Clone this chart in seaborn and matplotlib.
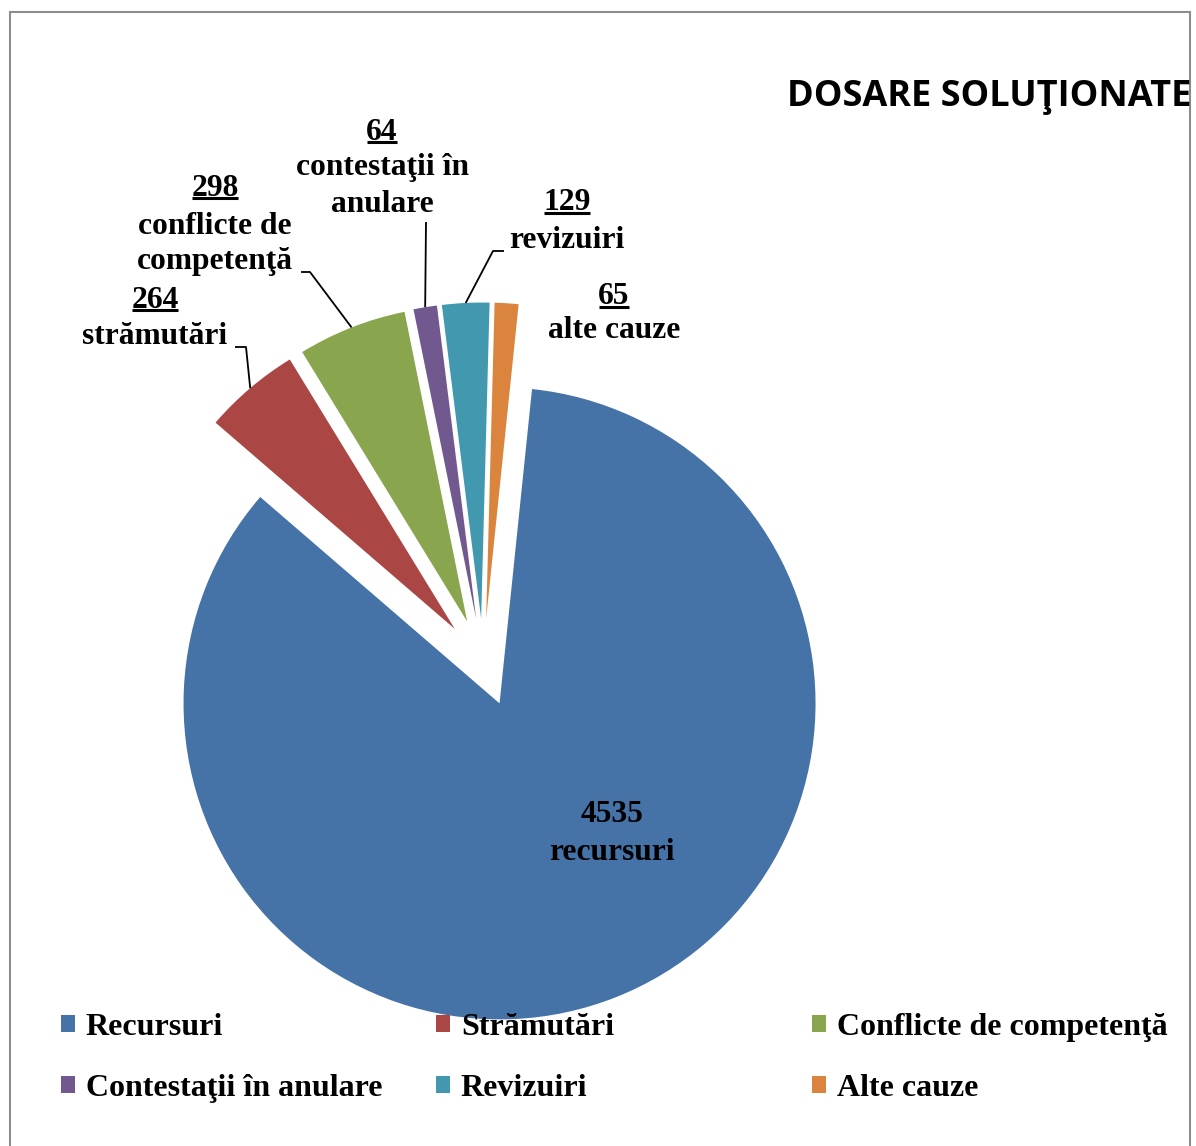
import numpy as np
import matplotlib
matplotlib.use("Agg")
import matplotlib.pyplot as plt
import seaborn as sns
from matplotlib.patches import Patch, Rectangle

# data
categories = ["Recursuri", "Strămutări", "Conflicte de competenţă",
              "Contestaţii în anulare", "Revizuiri", "Alte cauze"]
values = [4535, 264, 298, 64, 129, 65]
slice_names = ["recursuri", "strămutări", "conflicte de\ncompetenţă",
               "contestaţii în\nanulare", "revizuiri", "alte cauze"]
colors = ["#4572A7", "#AA4643", "#89A54E", "#71588F", "#4198AF", "#DB843D"]

sns.set_theme(style="white")
plt.rcParams["font.family"] = ["Liberation Serif", "DejaVu Serif"]
plt.rcParams["text.color"] = "black"

W, H = 1196, 1146
fig = plt.figure(figsize=(W / 100, H / 100), dpi=100)
ax = fig.add_axes([0, 0, 1, 1])


def px(x, y):
    # picture pixel -> data coords (y up)
    return (x, H - y)


R = 316
cx, cy = px(483.3, 662.5)
explode = [44] * 6
wedges, _ = ax.pie(values, colors=colors, explode=explode, startangle=84.1,
                   counterclock=False, center=(cx, cy), radius=R,
                   wedgeprops=dict(linewidth=0), frame=True)
ax.set_xlim(0, W)
ax.set_ylim(0, H)
ax.set_aspect("equal")
ax.axis("off")

FS = 22.7
bold = dict(fontsize=FS, fontweight="bold", ha="center", va="center", color="black")

# label positions (pixel centres of number line / name lines)
label_pos = {
    1: (155, 300, [336]),
    2: (215, 188, [226, 262]),
    3: (382, 132, [168, 205]),
    4: (567, 203, [240]),
    5: (614, 297, [331]),
}
num_texts = []
for i, (x, y, ys) in label_pos.items():
    t = ax.text(*px(x, y), str(values[i]), **bold)
    num_texts.append(t)
    for line, yy in zip(slice_names[i].split("\n"), ys):
        ax.text(*px(x, yy), line, **bold)

ax.text(*px(612, 815), str(values[0]), **bold)
ax.text(*px(612, 852), slice_names[0], **bold)

# leader lines: from label elbow to middle of wedge's outer arc
leader_start = {
    1: [(235, 347), (246, 347)],
    2: [(301, 272), (310, 272)],
    3: [(426, 222)],
    4: [(504, 251), (493, 251)],
}
for i, pts in leader_start.items():
    w = wedges[i]
    tm = np.deg2rad((w.theta1 + w.theta2) / 2)
    ex = w.center[0] + w.r * np.cos(tm)
    ey = w.center[1] + w.r * np.sin(tm)
    xs = [px(*p)[0] for p in pts] + [ex]
    ys = [px(*p)[1] for p in pts] + [ey]
    ax.plot(xs, ys, color="black", lw=1.3, solid_capstyle="butt")

# underline the numbers
fig.canvas.draw()
rend = fig.canvas.get_renderer()
for t in num_texts:
    bb = t.get_window_extent(rend)
    yl = bb.y0 + 5
    ax.plot([bb.x0 + 1, bb.x1 - 1], [yl, yl], color="black", lw=2.2,
            solid_capstyle="butt")

# title
ax.text(*px(787, 97), "DOSARE SOLUŢIONATE", fontsize=26, fontweight="bold",
        family=["Open Sans", "DejaVu Sans"], ha="left", va="center", color="black")

# frame
ax.add_patch(Rectangle((10, -20), 1180, H - 12 + 20, fill=False,
                       edgecolor="#8c8c8c", lw=1.5, clip_on=False, zorder=0))

# legend, three columns placed like Excel
col_x = [61, 436, 812]
for c in range(3):
    idx = [c, c + 3]
    handles = [Patch(facecolor=colors[i], edgecolor="none") for i in idx]
    fig.legend(handles, [categories[i] for i in idx], loc="center left",
               bbox_to_anchor=(col_x[c] / W, 1 - 1058 / H), frameon=False,
               borderpad=0, borderaxespad=0, handlelength=0.45,
               handleheight=0.45, handletextpad=0.33, labelspacing=1.0,
               labelcolor="black",
               prop=dict(family="Liberation Serif", weight="bold", size=23))

fig.savefig("out.png", dpi=100)
